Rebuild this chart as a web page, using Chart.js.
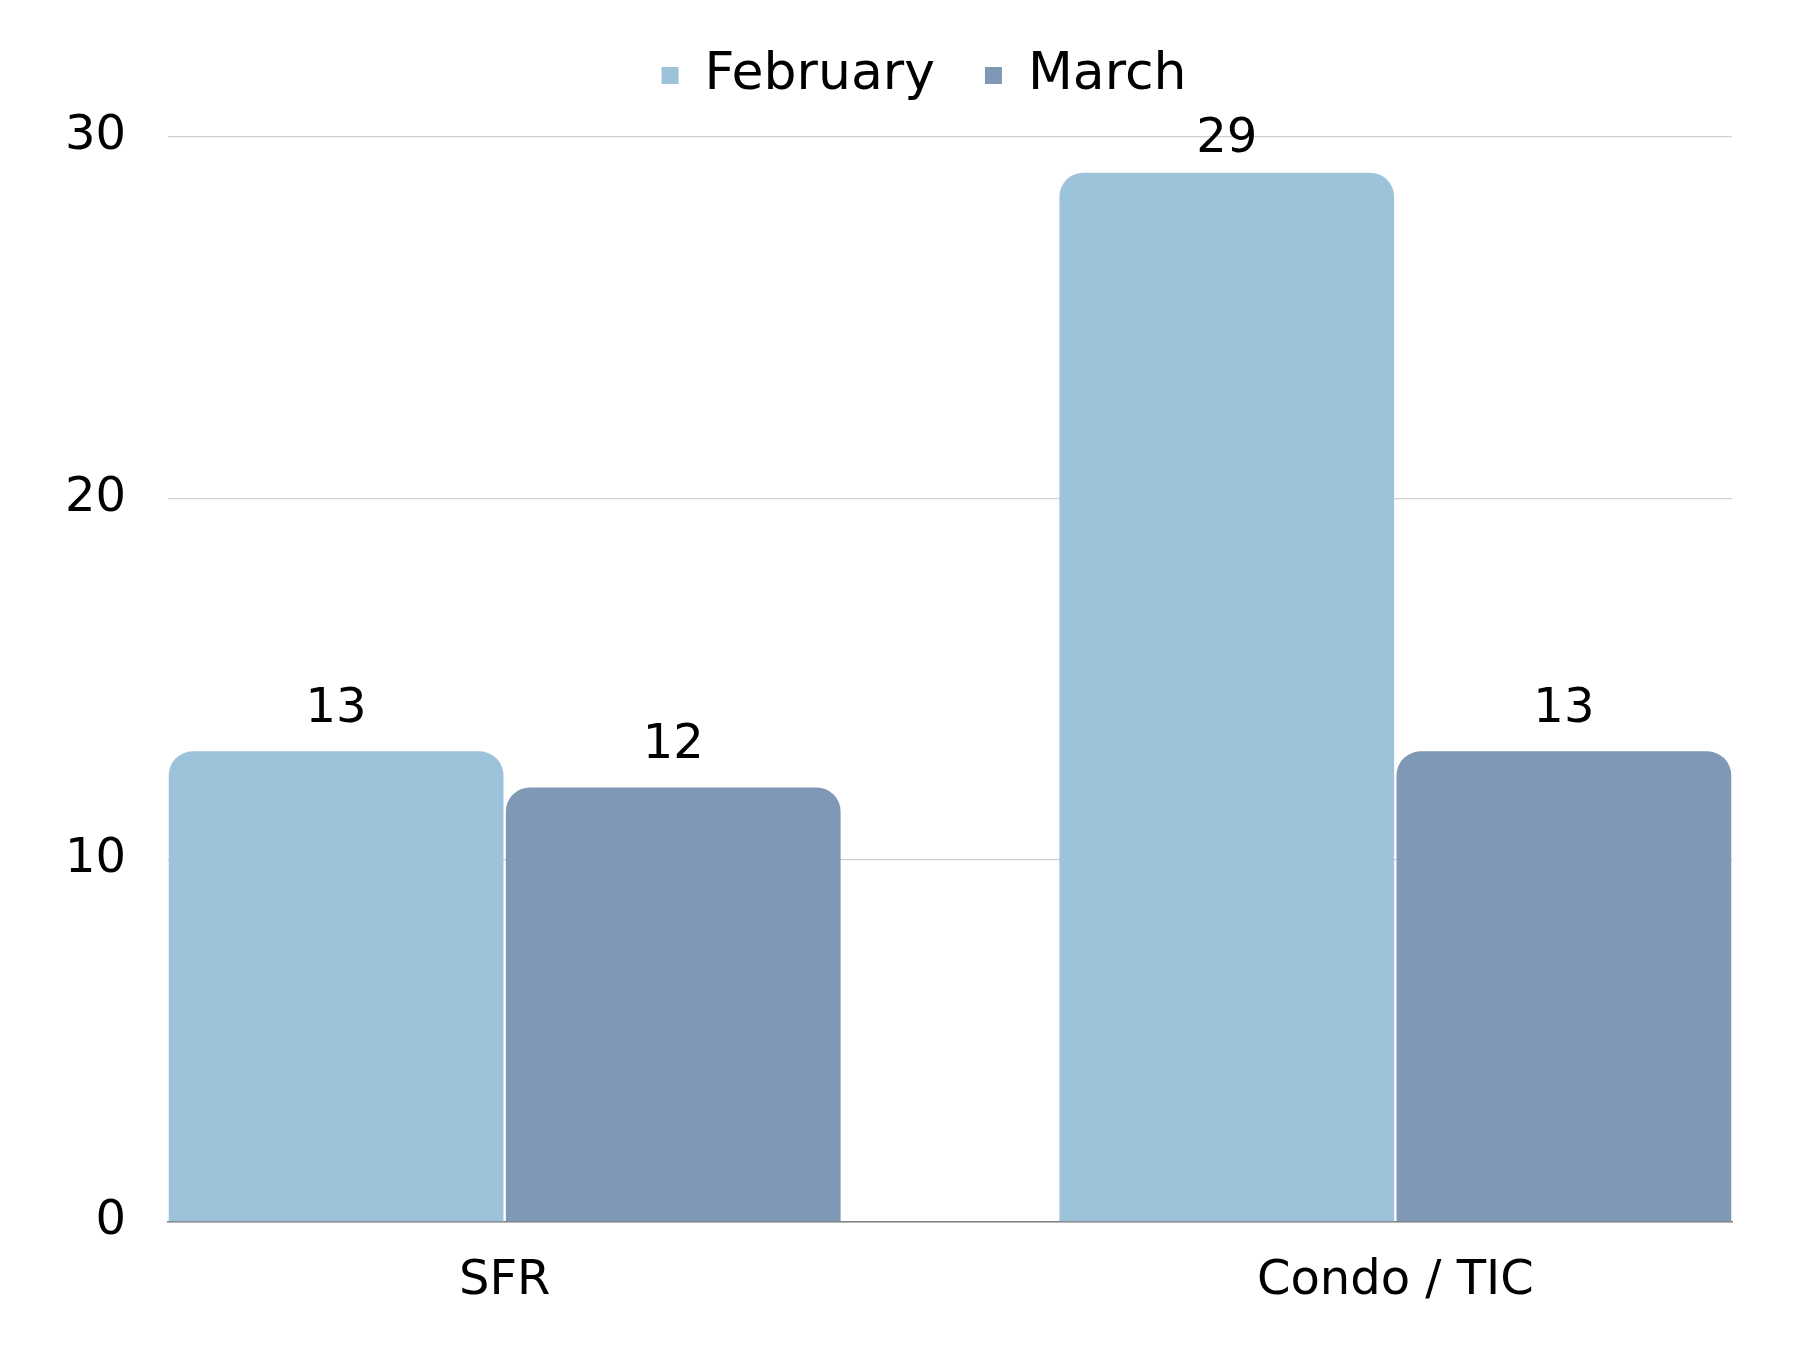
<!DOCTYPE html>
<html>
<head>
<meta charset="utf-8">
<script src="https://cdn.jsdelivr.net/npm/chart.js@4/dist/chart.umd.min.js"></script>
<style>
  html, body { margin: 0; padding: 0; background: #ffffff; }
  #wrap { width: 1800px; height: 1350px; position: relative; }
</style>
</head>
<body>
<div id="wrap"><canvas id="c" width="1800" height="1350"></canvas></div>
<script>
const categories = ['SFR', 'Condo / TIC'];
const seriesNames = ['February', 'March'];
const february = [13, 29];
const march = [12, 13];
const yTicks = [0, 10, 20, 30];

const FONT = "'DejaVu Sans', sans-serif";

const valueLabels = {
  id: 'valueLabels',
  afterDatasetsDraw(chart) {
    const ctx = chart.ctx;
    ctx.save();
    ctx.font = '500 48px ' + FONT;
    ctx.fillStyle = '#000000';
    ctx.textAlign = 'center';
    ctx.textBaseline = 'middle';
    chart.data.datasets.forEach((ds, di) => {
      const meta = chart.getDatasetMeta(di);
      meta.data.forEach((el, i) => {
        const y = Math.max(el.y - 41.5, chart.chartArea.top + 3);
        ctx.fillText(String(ds.data[i].y), el.x, y);
      });
    });
    ctx.restore();
  }
};

new Chart(document.getElementById('c'), {
  type: 'bar',
  data: {
    datasets: [
      {
        label: seriesNames[0],
        data: february.map((v, i) => ({ x: i, y: v })),
        backgroundColor: '#9cc3d9',
        borderRadius: { topLeft: 24, topRight: 24, bottomLeft: 0, bottomRight: 0 },
        borderSkipped: 'start',
        categoryPercentage: 0.757,
        barPercentage: 0.993
      },
      {
        label: seriesNames[1],
        data: march.map((v, i) => ({ x: i, y: v })),
        backgroundColor: '#7f98b5',
        borderRadius: { topLeft: 24, topRight: 24, bottomLeft: 0, bottomRight: 0 },
        borderSkipped: 'start',
        categoryPercentage: 0.757,
        barPercentage: 0.993
      }
    ]
  },
  options: {
    responsive: false,
    animation: false,
    layout: { padding: { top: -0.5, right: 0, bottom: 0, left: 48 } },
    plugins: {
      legend: {
        display: true,
        position: 'top',
        align: 'center',
        labels: {
          color: '#000000',
          font: { family: FONT, size: 52 },
          boxWidth: 17,
          boxHeight: 17,
          padding: 50
        }
      },
      tooltip: { enabled: false }
    },
    scales: {
      x: {
        type: 'linear',
        offset: false,
        bounds: 'data',
        min: -0.378,
        max: 1.378,
        afterBuildTicks: (s) => { s.ticks = categories.map((c, i) => ({ value: i })); },
        afterFit: (s) => { s.height = 128.5; },
        ticks: {
          color: '#000000',
          font: { family: FONT, size: 48 },
          padding: 31,
          callback: (v) => categories[v] !== undefined ? categories[v] : ''
        },
        grid: { display: false, drawTicks: false, offset: false },
        border: { display: true, color: '#7f7f7f', width: 1.5 }
      },
      gapTop: {
        type: 'linear',
        position: 'top',
        axis: 'x',
        display: true,
        afterFit: (s) => { s.height = 25; },
        ticks: { display: false },
        grid: { display: false, drawTicks: false },
        border: { display: false }
      },
      gapRight: {
        type: 'linear',
        position: 'right',
        axis: 'y',
        display: true,
        afterFit: (s) => { s.width = 68; },
        ticks: { display: false },
        grid: { display: false, drawTicks: false },
        border: { display: false }
      },
      y: {
        min: 0,
        max: 30,
        afterBuildTicks: (s) => { s.ticks = yTicks.map(v => ({ value: v })); },
        afterFit: (s) => { s.width = 120; },
        ticks: {
          color: '#000000',
          font: { family: FONT, size: 48 },
          padding: 42
        },
        grid: { color: '#cfcfcf', lineWidth: 1.3, drawTicks: false },
        border: { display: false }
      }
    }
  },
  plugins: [valueLabels]
});
</script>
</body>
</html>
